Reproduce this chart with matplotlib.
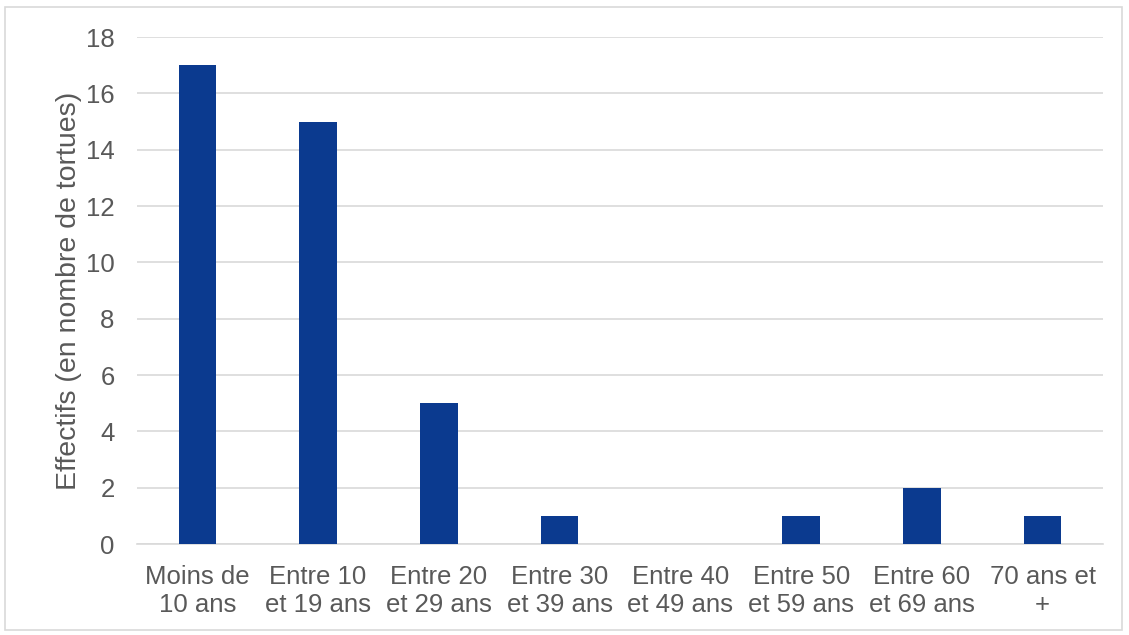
import matplotlib.pyplot as plt
from matplotlib.patches import Rectangle

categories = [
    "Moins de\n10 ans",
    "Entre 10\net 19 ans",
    "Entre 20\net 29 ans",
    "Entre 30\net 39 ans",
    "Entre 40\net 49 ans",
    "Entre 50\net 59 ans",
    "Entre 60\net 69 ans",
    "70 ans et\n+",
]
counts = [17, 15, 5, 1, 0, 1, 2, 1]
y_ticks = [0, 2, 4, 6, 8, 10, 12, 14, 16, 18]

plt.rcParams["font.family"] = ["Liberation Sans", "DejaVu Sans"]

fig = plt.figure(figsize=(11.29, 6.35), dpi=100)
ax = fig.add_axes([0.1213, 0.1433, 0.8557, 0.7984])

x = range(len(categories))
ax.bar(x, counts, width=0.31, color="#0B3A8F", zorder=3)

ax.set_xlim(-0.5, len(categories) - 0.5)
ax.set_ylim(0, 18)
ax.set_yticks(y_ticks)
ax.set_xticks(list(x))
ax.set_xticklabels(categories, linespacing=1.2)
ax.tick_params(axis="both", length=0, labelsize=18.5, colors="#595959")
ax.tick_params(axis="x", pad=15)
ax.tick_params(axis="y", pad=16)

ax.grid(axis="y", color="#D9D9D9", linewidth=1.2, zorder=0)
for s in ["top", "right", "left"]:
    ax.spines[s].set_visible(False)
ax.spines["bottom"].set_color("#D9D9D9")
ax.spines["bottom"].set_linewidth(1.2)

ax.set_ylabel("Effectifs (en nombre de tortues)", fontsize=20.5, color="#595959", labelpad=3)

# light frame around the whole chart
fig.patches.append(Rectangle((5 / 1129, 5 / 635), 1 - 12 / 1129, 1 - 12 / 635,
                             transform=fig.transFigure, fill=False,
                             edgecolor="#D9D9D9", linewidth=1.2))

fig.savefig("out.png", dpi=100)
